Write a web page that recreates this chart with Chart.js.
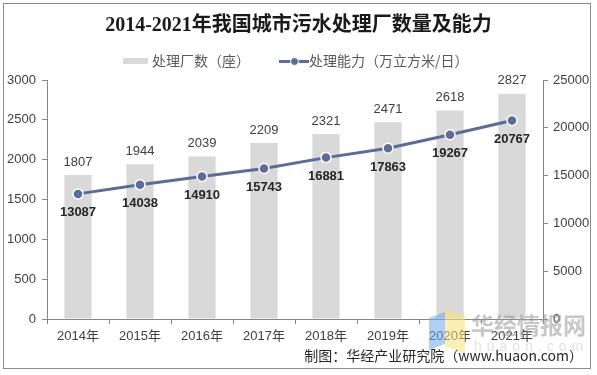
<!DOCTYPE html>
<html>
<head>
<meta charset="utf-8">
<script src="https://cdn.jsdelivr.net/npm/chart.js@4/dist/chart.umd.min.js"></script>
<style>
  html, body { margin: 0; padding: 0; background: #fff; }
  #wrap { position: relative; width: 597px; height: 375px; overflow: hidden; font-family: "Liberation Sans", "Noto Sans CJK SC", sans-serif; }
  #frame { position: absolute; left: 3px; top: 3px; width: 588px; height: 366px; border: 1px solid #8c8c8c; box-sizing: border-box; pointer-events: none; }
  canvas { position: absolute; left: 0; top: 0; }
  #title { position: absolute; left: 0; width: 597px; top: 12px; text-align: center; font: bold 20px "Liberation Serif", "Noto Sans CJK SC", serif; color: #1a1a1a; line-height: 24px; white-space: nowrap; }
  .leg { position: absolute; top: 50px; font: 14px "Noto Sans CJK SC", sans-serif; color: #595959; line-height: 20px; white-space: nowrap; }
  #footer { position: absolute; right: 14px; top: 345px; font: 14px "Noto Sans CJK SC", "Liberation Sans", sans-serif; color: #262626; line-height: 20px; white-space: nowrap; }
  #wm { position: absolute; left: 0; top: 0; width: 597px; height: 375px; pointer-events: none; opacity: 0.55; }
</style>
</head>
<body>
<div id="wrap">
  <canvas id="c" width="597" height="375"></canvas>
  <div id="wm">
    <div style="position:absolute;left:429px;top:315px;width:16px;height:32px;background:#6fa8f0;transform:skewY(-20deg);"></div>
    <div style="position:absolute;left:445px;top:312px;width:20px;height:38px;background:#f7e27a;transform:skewY(20deg);"></div>
    <div style="position:absolute;left:471px;top:310px;font:bold 23px 'Noto Sans CJK SC',sans-serif;color:#999999;line-height:28px;">华经情报网</div>
    <div style="position:absolute;left:474px;top:338px;font:14px 'Liberation Sans',sans-serif;color:#c8c8c8;letter-spacing:5px;line-height:16px;">huaon.com</div>
  </div>
  <div id="title">2014-2021年我国城市污水处理厂数量及能力</div>
  <div class="leg" style="left:123px;">
    <span style="display:inline-block;width:25px;height:6px;background:#d9d9d9;vertical-align:middle;margin-right:4px;position:relative;top:-1px;"></span>处理厂数（座）
  </div>
  <div class="leg" style="left:279px;">
    <span style="display:inline-block;width:30px;height:20px;vertical-align:middle;position:relative;top:-1px;margin-right:0px;">
      <span style="position:absolute;left:0;top:9px;width:30px;height:3px;background:#5b6d96;"></span>
      <span style="position:absolute;left:11px;top:6px;width:7px;height:7px;border-radius:50%;background:#5b6d96;border:1px solid #fff;"></span>
    </span>处理能力（万立方米/日）
  </div>
  <div id="footer">制图：华经产业研究院（www.huaon.com）</div>
  <div id="frame"></div>
</div>
<script>
const categories = ["2014年", "2015年", "2016年", "2017年", "2018年", "2019年", "2020年", "2021年"];
const plantCounts = [1807, 1944, 2039, 2209, 2321, 2471, 2618, 2827];
const capacity = [13087, 14038, 14910, 15743, 16881, 17863, 19267, 20767];
const leftTicks = [0, 500, 1000, 1500, 2000, 2500, 3000];
const rightTicks = [0, 5000, 10000, 15000, 20000, 25000];

const AXIS = '#868686';
const TEXT = '#404040';

const labelPlugin = {
  id: 'valueLabels',
  afterDatasetsDraw(chart) {
    const ctx = chart.ctx;
    ctx.save();
    ctx.textAlign = 'center';
    ctx.textBaseline = 'middle';
    const barMeta = chart.getDatasetMeta(1);
    ctx.font = '13px "Liberation Sans", Arial, sans-serif';
    ctx.fillStyle = TEXT;
    barMeta.data.forEach((el, i) => {
      ctx.fillText(String(plantCounts[i]), el.x, el.y - 13);
    });
    const lineMeta = chart.getDatasetMeta(0);
    ctx.font = 'bold 13px "Liberation Sans", Arial, sans-serif';
    ctx.fillStyle = '#262626';
    lineMeta.data.forEach((el, i) => {
      ctx.fillText(String(capacity[i]), el.x, el.y + 19);
    });
    ctx.restore();
  }
};

new Chart(document.getElementById('c'), {
  type: 'bar',
  data: {
    labels: categories,
    datasets: [
      {
        type: 'line',
        label: '处理能力（万立方米/日）',
        data: capacity,
        yAxisID: 'y1',
        borderColor: '#5b6d96',
        borderWidth: 3,
        backgroundColor: '#5b6d96',
        pointRadius: 5,
        pointBorderColor: '#ffffff',
        pointBorderWidth: 1.5,
        pointBackgroundColor: '#5b6d96',
        tension: 0,
        order: 0
      },
      {
        type: 'bar',
        label: '处理厂数（座）',
        data: plantCounts,
        yAxisID: 'y',
        backgroundColor: '#d9d9d9',
        categoryPercentage: 1,
        barPercentage: 0.44,
        order: 1
      }
    ]
  },
  options: {
    responsive: false,
    animation: false,
    layout: { padding: { top: 80, left: 0, right: 0, bottom: 0 } },
    plugins: { legend: { display: false }, title: { display: false }, tooltip: { enabled: false } },
    scales: {
      x: {
        offset: true,
        grid: { display: true, offset: true, drawOnChartArea: false, drawTicks: true, tickLength: 5, color: AXIS },
        border: { display: true, color: AXIS, width: 1 },
        ticks: { color: TEXT, font: { size: 13, family: '"Liberation Sans", "Noto Sans CJK SC", sans-serif' }, padding: 5, maxRotation: 0 },
        afterFit(s) { s.height = 56; }
      },
      y: {
        position: 'left',
        min: 0, max: 3000,
        afterBuildTicks(s) { s.ticks = leftTicks.map(v => ({ value: v })); },
        grid: { display: true, drawOnChartArea: false, drawTicks: true, tickLength: 5, color: AXIS },
        border: { display: true, color: AXIS, width: 1 },
        ticks: { color: TEXT, font: { size: 13, family: '"Liberation Sans", sans-serif' }, padding: 6, callback: v => String(v) },
        afterFit(s) { s.width = 47; }
      },
      y1: {
        position: 'right',
        min: 0, max: 25000,
        afterBuildTicks(s) { s.ticks = rightTicks.map(v => ({ value: v })); },
        grid: { display: true, drawOnChartArea: false, drawTicks: true, tickLength: 5, color: AXIS },
        border: { display: true, color: AXIS, width: 1 },
        ticks: { color: TEXT, font: { size: 13, family: '"Liberation Sans", sans-serif' }, padding: 5, callback: v => String(v) },
        afterFit(s) { s.width = 54; }
      }
    }
  },
  plugins: [labelPlugin]
});
</script>
</body>
</html>
